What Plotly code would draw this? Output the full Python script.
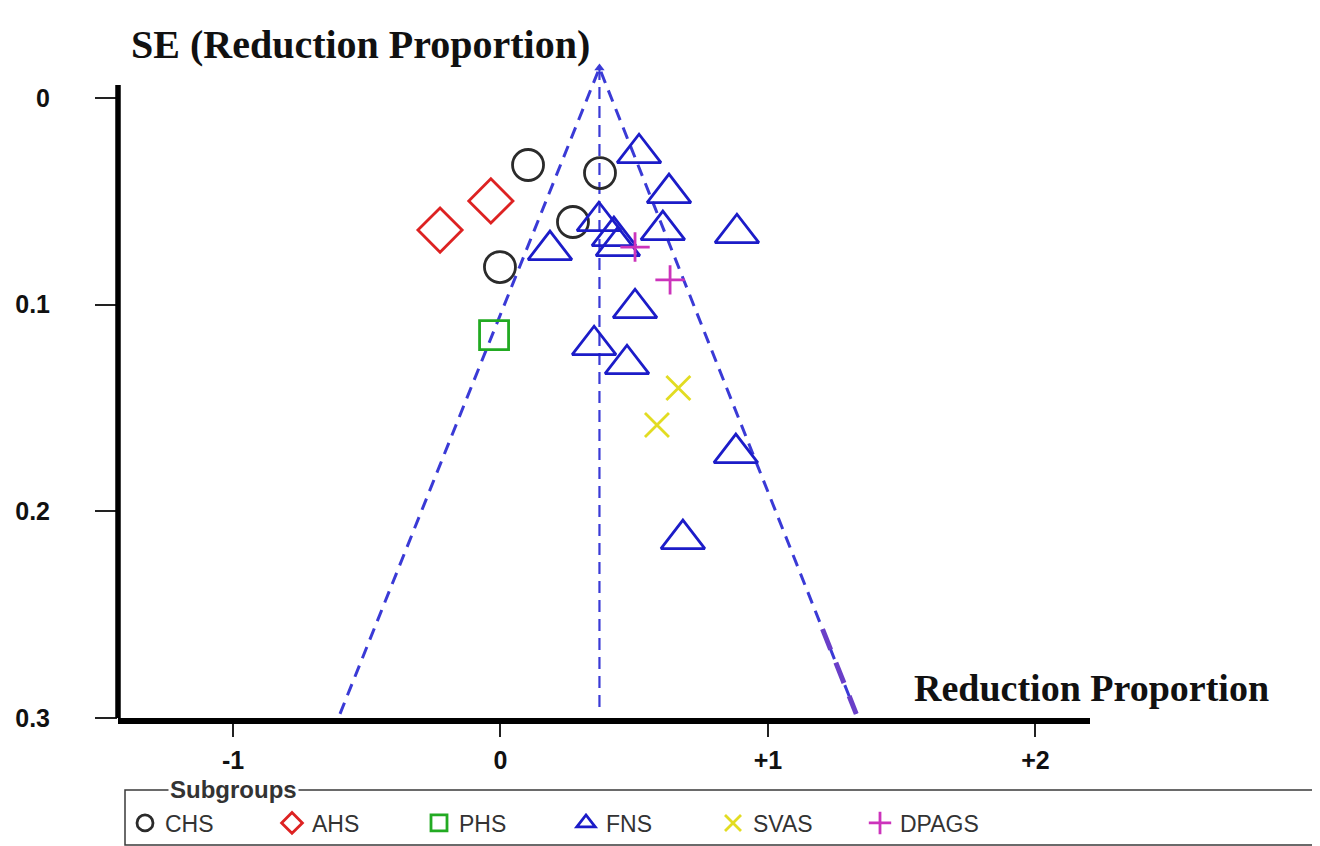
import plotly.graph_objects as go

# ---------------- data ----------------
subgroups = ["CHS", "AHS", "PHS", "FNS", "SVAS", "DPAGS"]

chs_x = [0.103, 0.372, 0.271, -0.002]
chs_se = [0.0324, 0.0363, 0.0600, 0.0818]

ahs_x = [-0.226, -0.036]
ahs_se = [0.0639, 0.0498]

phs_x = [-0.024]
phs_se = [0.1147]

fns_x = [0.518, 0.630, 0.368, 0.424, 0.439, 0.607, 0.884, 0.185, 0.503, 0.350, 0.473, 0.880, 0.682]
fns_se = [0.0267, 0.0460, 0.0596, 0.0668, 0.0717, 0.0639, 0.0654, 0.0736, 0.1017, 0.1196, 0.1288, 0.1718, 0.2134]

svas_x = [0.665, 0.585]
svas_se = [0.1403, 0.1582]

dpags_x = [0.503, 0.634]
dpags_se = [0.0721, 0.0880]

# funnel
pooled_estimate = 0.37
apex_se = -0.0145
base_se = 0.298
funnel_left = -0.60
funnel_right = 1.33
highlight_from_se = 0.257

x_ticks = [-1, 0, 1, 2]
x_tick_labels = ["-1", "0", "+1", "+2"]
y_ticks = [0, 0.1, 0.2, 0.3]
y_tick_labels = ["0", "0.1", "0.2", "0.3"]

# ---------------- layout constants ----------------
OFF = 8  # page body margin
W, H = 1320 - OFF, 846 - OFF
ML, MT = 118 - OFF, 60 - OFF
MR = W - (1090 - OFF)
MB = H - (718 - OFF)
PW, PH = W - ML - MR, H - MT - MB


def px_x(px):
    return (px - OFF - ML) / PW


def px_y(py):
    return (H - MB - (py - OFF)) / PH


funnel_color = "#3a3ad6"
styles = {
    "CHS": dict(symbol="circle-open", size=31, color="#2b2b2b"),
    "AHS": dict(symbol="diamond-open", size=34, color="#dd2222"),
    "PHS": dict(symbol="square-open", size=29, color="#22aa22"),
    "FNS": dict(symbol="triangle-up-open", size=38, color="#1c1cc8"),
    "SVAS": dict(symbol="x-thin-open", size=24, color="#e2dc22"),
    "DPAGS": dict(symbol="cross-thin-open", size=21, color="#cc33bb"),
}
series = {
    "CHS": (chs_x, chs_se),
    "AHS": (ahs_x, ahs_se),
    "PHS": (phs_x, phs_se),
    "FNS": (fns_x, fns_se),
    "SVAS": (svas_x, svas_se),
    "DPAGS": (dpags_x, dpags_se),
}

fig = go.Figure()

# funnel lines
fig.add_trace(go.Scatter(
    x=[funnel_left, pooled_estimate, funnel_right],
    y=[base_se, apex_se, base_se],
    mode="lines", line=dict(color=funnel_color, width=3, dash="12px,8px"),
    showlegend=False, hoverinfo="skip", cliponaxis=False))
fig.add_trace(go.Scatter(
    x=[pooled_estimate, pooled_estimate], y=[apex_se, base_se],
    mode="lines", line=dict(color=funnel_color, width=2.2, dash="12px,7px"),
    showlegend=False, hoverinfo="skip"))
fig.add_trace(go.Scatter(
    x=[pooled_estimate], y=[apex_se], mode="markers",
    marker=dict(symbol="triangle-up", size=9, color=funnel_color),
    showlegend=False, hoverinfo="skip", cliponaxis=False))
# heavier lower part of right limit
t = (highlight_from_se - apex_se) / (base_se - apex_se)
hx = pooled_estimate + t * (funnel_right - pooled_estimate)
fig.add_trace(go.Scatter(
    x=[hx, funnel_right], y=[highlight_from_se, base_se],
    mode="lines", line=dict(color="#6a3fc8", width=5, dash="22px,14px"),
    showlegend=False, hoverinfo="skip"))

for name in subgroups:
    xs, ys = series[name]
    st = styles[name]
    fig.add_trace(go.Scatter(
        x=xs, y=ys, mode="markers", name=name,
        marker=dict(symbol=st["symbol"], size=st["size"], color=st["color"],
                    line=dict(color=st["color"], width=2.8)),
        cliponaxis=False))

# y axis line (drawn as shape so the funnel apex can rise above it)
fig.add_shape(type="line", xref="paper", yref="y", x0=0, x1=0,
              y0=-0.0063, y1=0.3, line=dict(color="black", width=5.5))

# legend frame
fig.add_shape(type="rect", xref="paper", yref="paper",
              x0=px_x(125), x1=px_x(1318), y0=px_y(845), y1=px_y(790),
              line=dict(color="#3a3a3a", width=1.5))
fig.add_annotation(text="<b>Subgroups</b>", xref="paper", yref="paper",
                   x=px_x(168), y=px_y(790), xanchor="left", yanchor="middle",
                   showarrow=False, bgcolor="white", borderpad=1,
                   font=dict(family="Liberation Sans, Arial, sans-serif", size=24, color="#333333"))

# titles
fig.add_annotation(text="<b>SE (Reduction Proportion)</b>", xref="paper", yref="paper",
                   x=px_x(360), y=px_y(44), xanchor="center", yanchor="middle",
                   showarrow=False,
                   font=dict(family="Liberation Serif, Times New Roman, serif", size=40, color="#111111"))
fig.add_annotation(text="<b>Reduction Proportion</b>", xref="paper", yref="paper",
                   x=px_x(1091), y=px_y(688), xanchor="center", yanchor="middle",
                   showarrow=False,
                   font=dict(family="Liberation Serif, Times New Roman, serif", size=38, color="#111111"))

tick_font = dict(family="Liberation Sans, Arial, sans-serif", size=25, color="#111111", weight="bold")

fig.update_layout(
    width=W, height=H,
    margin=dict(l=ML, r=MR, t=MT, b=MB),
    plot_bgcolor="white", paper_bgcolor="white",
    xaxis=dict(range=[-1.430, 2.204], tickvals=x_ticks, ticktext=x_tick_labels,
               showgrid=False, zeroline=False, showline=True, linecolor="black",
               linewidth=5.5, ticks="outside", ticklen=13, tickwidth=1.5,
               tickcolor="#222222", tickfont=tick_font, ticklabelstandoff=2,
               automargin=False),
    xaxis2=dict(overlaying="x", matches="x", anchor="y", side="bottom",
                tickvals=x_ticks, showticklabels=False, ticks="inside",
                ticklen=13, tickwidth=1.5, tickcolor="#222222",
                showgrid=False, zeroline=False, showline=False, automargin=False),
    yaxis=dict(range=[0.3, -0.0184], tickvals=y_ticks, ticktext=y_tick_labels,
               showgrid=False, zeroline=False, showline=False,
               ticks="outside", ticklen=22, tickwidth=1.5, tickcolor="#222222",
               tickfont=tick_font, ticklabelstandoff=40, automargin=False),
    legend=dict(orientation="h", xref="container", yref="container",
                x=117 / W, y=1 - 815 / H, xanchor="left", yanchor="middle",
                entrywidth=102, entrywidthmode="pixels",
                font=dict(family="Liberation Sans, Arial, sans-serif", size=23, color="#333333"),
                bgcolor="rgba(0,0,0,0)", borderwidth=0),
)

fig.write_html("out.html")
